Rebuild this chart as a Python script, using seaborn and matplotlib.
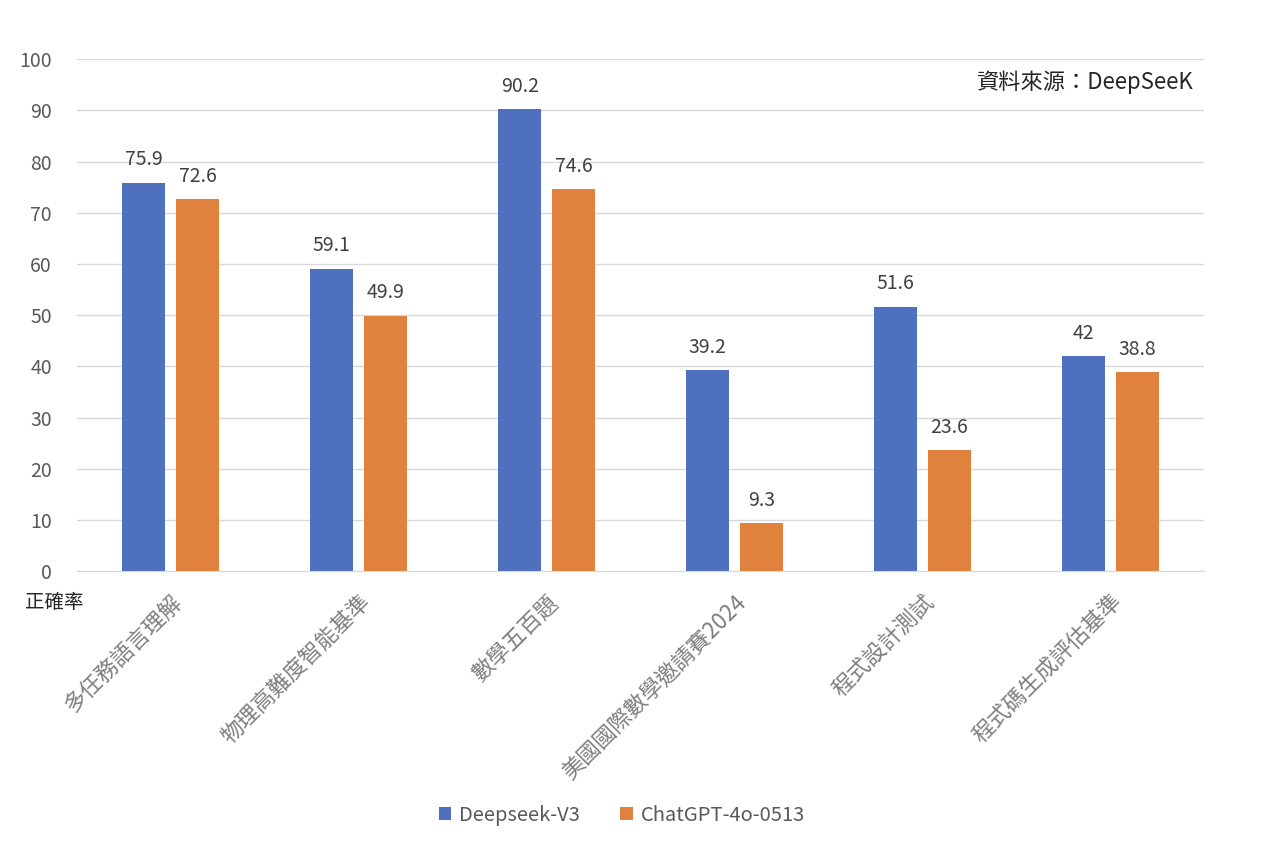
import pandas as pd
import seaborn as sns
import matplotlib.pyplot as plt

categories = ['多任務語言理解', '物理高難度智能基準', '數學五百題', '美國國際數學邀請賽2024', '程式設計測試', '程式碼生成評估基準']
deepseek_v3 = [75.9, 59.1, 90.2, 39.2, 51.6, 42]
chatgpt_4o = [72.6, 49.9, 74.6, 9.3, 23.6, 38.8]
series_names = ['Deepseek-V3', 'ChatGPT-4o-0513']
colors = ['#4E70BE', '#E0823E']

df = pd.DataFrame({
    'category': categories * 2,
    'model': [series_names[0]] * len(categories) + [series_names[1]] * len(categories),
    'score': deepseek_v3 + chatgpt_4o,
})

sns.set_style('white')
plt.rcParams['font.family'] = ['Noto Sans CJK TC', 'DejaVu Sans']

fig = plt.figure(figsize=(12.8, 8.46), dpi=100)
ax = fig.add_axes([0.060, 0.325, 0.881, 0.605])

sns.barplot(data=df, x='category', y='score', hue='model', palette=colors,
            width=0.574, gap=0.204, ax=ax, saturation=1, linewidth=0)

# value labels above bars
for cont in ax.containers:
    ax.bar_label(cont, labels=[f'{v:g}' for v in cont.datavalues], padding=9,
                 fontsize=14, color='#404040')

ax.set_ylim(0, 100)
ax.set_yticks(range(0, 101, 10))
ax.set_xlim(-0.5, len(categories) - 0.5)
ax.yaxis.grid(True, color='#d9d9d9', linewidth=1)
ax.set_axisbelow(True)
for s in ['top', 'right', 'left']:
    ax.spines[s].set_visible(False)
ax.spines['bottom'].set_color('#d9d9d9')
ax.tick_params(axis='y', length=0, labelsize=14, labelcolor='#595959', pad=18)
ax.tick_params(axis='x', length=0, labelsize=16, labelcolor='#7f7f7f', pad=14)
ax.set_xlabel('')
ax.set_ylabel('')
plt.setp(ax.get_xticklabels(), rotation=45, ha='right', rotation_mode='anchor')

# axis title under the y axis
fig.text(25 / 1280, 1 - 603 / 846, '正確率', fontsize=14, color='#262626', va='center', ha='left')

# source note
ax.text(0.99, 0.955, '資料來源：DeepSeeK', transform=ax.transAxes, ha='right', va='center',
        fontsize=16, color='#262626')

ax.legend(loc='center', bbox_to_anchor=(622 / 1280, 1 - 815 / 846), bbox_transform=fig.transFigure,
          ncol=2, frameon=False, fontsize=14.5, handlelength=0.6, handleheight=0.6,
          columnspacing=2.0, handletextpad=0.4, labelcolor='#595959')

fig.savefig('out.png', dpi=100)
